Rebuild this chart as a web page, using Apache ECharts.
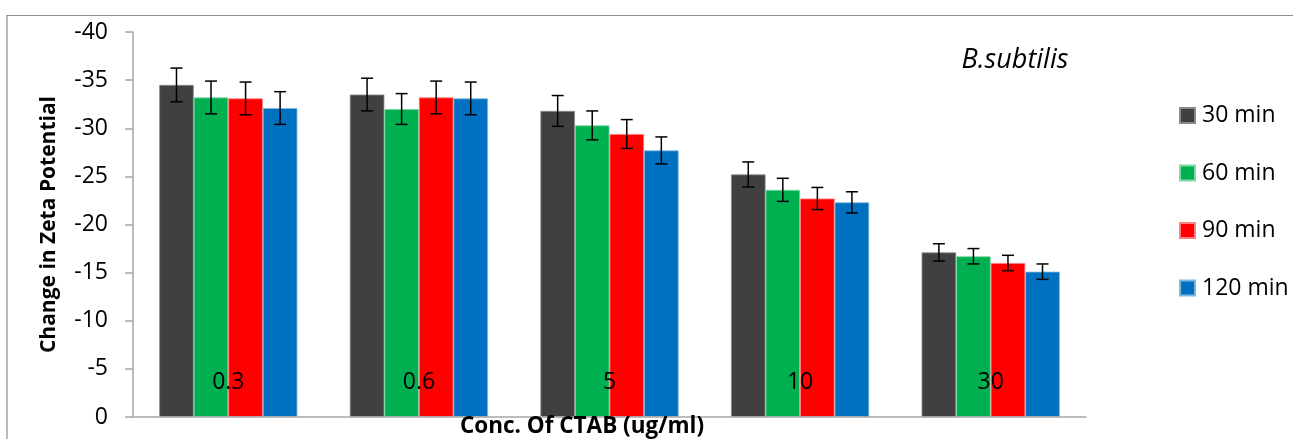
<!DOCTYPE html>
<html>
<head>
<meta charset="utf-8">
<script src="https://cdn.jsdelivr.net/npm/echarts@6/dist/echarts.min.js"></script>
<style>html,body{margin:0;padding:0;background:#fff;}#c{width:1293px;height:439px;}</style>
</head>
<body>
<div id="c"></div>
<script>
var categories = ['0.3', '0.6', '5', '10', '30'];
var seriesNames = ['30 min', '60 min', '90 min', '120 min'];
var s30 = [-34.5, -33.5, -31.8, -25.2, -17.1];
var s60 = [-33.2, -32.0, -30.3, -23.6, -16.7];
var s90 = [-33.1, -33.2, -29.4, -22.7, -16.0];
var s120 = [-32.1, -33.1, -27.7, -22.3, -15.1];
var err30 = [1.75, 1.7, 1.6, 1.3, 0.9];
var err60 = [1.7, 1.6, 1.5, 1.2, 0.8];
var err90 = [1.7, 1.7, 1.5, 1.15, 0.8];
var err120 = [1.7, 1.7, 1.4, 1.1, 0.8];
var yTicks = [-40, -35, -30, -25, -20, -15, -10, -5, 0];

var values = [s30, s60, s90, s120];
var errs = [err30, err60, err90, err120];
var colors = ['#404040', '#00B050', '#FF0000', '#0070C0'];
var borderColors = ['#8a8a8a', '#7fd8a7', '#ff8080', '#7fb7df'];
var catGap = 0.275;
var FONT = 'Open Sans';

var series = [];
values.forEach(function (vals, i) {
  series.push({
    name: seriesNames[i],
    type: 'bar',
    data: vals,
    barGap: '0%',
    barCategoryGap: (catGap * 100) + '%',
    itemStyle: { color: colors[i], borderColor: borderColors[i], borderWidth: 0.8 },
    z: 2
  });
});
values.forEach(function (vals, i) {
  series.push({
    type: 'custom',
    name: 'err' + i,
    data: vals.map(function (v, k) { return [k, v, errs[i][k]]; }),
    encode: { x: 0, y: 1 },
    z: 5,
    silent: true,
    renderItem: function (params, api) {
      var k = api.value(0), v = api.value(1), e = api.value(2);
      var band = api.size([1, 0])[0];
      var bw = band * (1 - catGap) / 4;
      var c = api.coord([k, v]);
      var x = c[0] + (i - 1.5) * bw;
      var top = api.coord([k, v - e])[1];
      var bot = api.coord([k, v + e])[1];
      var hw = 6;
      var st = { stroke: '#000', lineWidth: 1.5 };
      return {
        type: 'group',
        children: [
          { type: 'line', shape: { x1: x, y1: top, x2: x, y2: bot }, style: st },
          { type: 'line', shape: { x1: x - hw, y1: top, x2: x + hw, y2: top }, style: st },
          { type: 'line', shape: { x1: x - hw, y1: bot, x2: x + hw, y2: bot }, style: st }
        ]
      };
    }
  });
});

var chart = echarts.init(document.getElementById('c'));
chart.setOption({
  animation: false,
  backgroundColor: '#fff',
  grid: { left: 133, right: 207, top: 32, bottom: 22, containLabel: false },
  xAxis: {
    type: 'category',
    data: categories,
    z: 8,
    axisLine: { lineStyle: { color: '#a6a6a6', width: 1.5 } },
    axisTick: { inside: true, length: 7, lineStyle: { color: '#a6a6a6', width: 1.5 } },
    axisLabel: { color: '#000', fontFamily: FONT, fontSize: 23, margin: -46, verticalAlign: 'top' },
    splitLine: { show: false }
  },
  yAxis: {
    type: 'value',
    min: -40, max: 0, interval: 5,
    inverse: true,
    name: 'Change in Zeta Potential',
    nameLocation: 'middle',
    nameGap: 73,
    nameTextStyle: { color: '#000', fontFamily: FONT, fontSize: 21, fontWeight: 'bold' },
    axisLine: { show: true, lineStyle: { color: '#a6a6a6', width: 1.5 } },
    axisTick: { show: true, length: 8, lineStyle: { color: '#a6a6a6', width: 1.5 } },
    axisLabel: { color: '#000', fontFamily: FONT, fontSize: 23, margin: 25,
      customValues: yTicks, formatter: function (v) { return String(v); } },
    splitLine: { show: false }
  },
  legend: {
    orient: 'vertical',
    left: 1174,
    top: 99,
    data: seriesNames,
    itemWidth: 15,
    itemHeight: 15,
    itemGap: 34.5,
    icon: 'rect',
    textStyle: { color: '#000', fontFamily: FONT, fontSize: 23, lineHeight: 23, padding: [0, 0, 0, 2] }
  },
  graphic: [
    { type: 'rect', shape: { x: 7, y: 15.5, width: 1400, height: 500 },
      style: { fill: 'none', stroke: '#8c8c8c', lineWidth: 1.2 }, silent: true, z: -1 },
    { type: 'text', style: { text: 'Conc. Of CTAB (ug/ml)', x: 582, y: 427, align: 'center', verticalAlign: 'middle',
      fill: '#000', font: 'bold 22.5px "Open Sans"' }, z: 10 },
    { type: 'text', style: { text: 'B.subtilis', x: 1015, y: 60, align: 'center', verticalAlign: 'middle',
      fill: '#000', font: 'italic 27px "Open Sans"' }, z: 10 }
  ],
  series: series
});
</script>
</body>
</html>
